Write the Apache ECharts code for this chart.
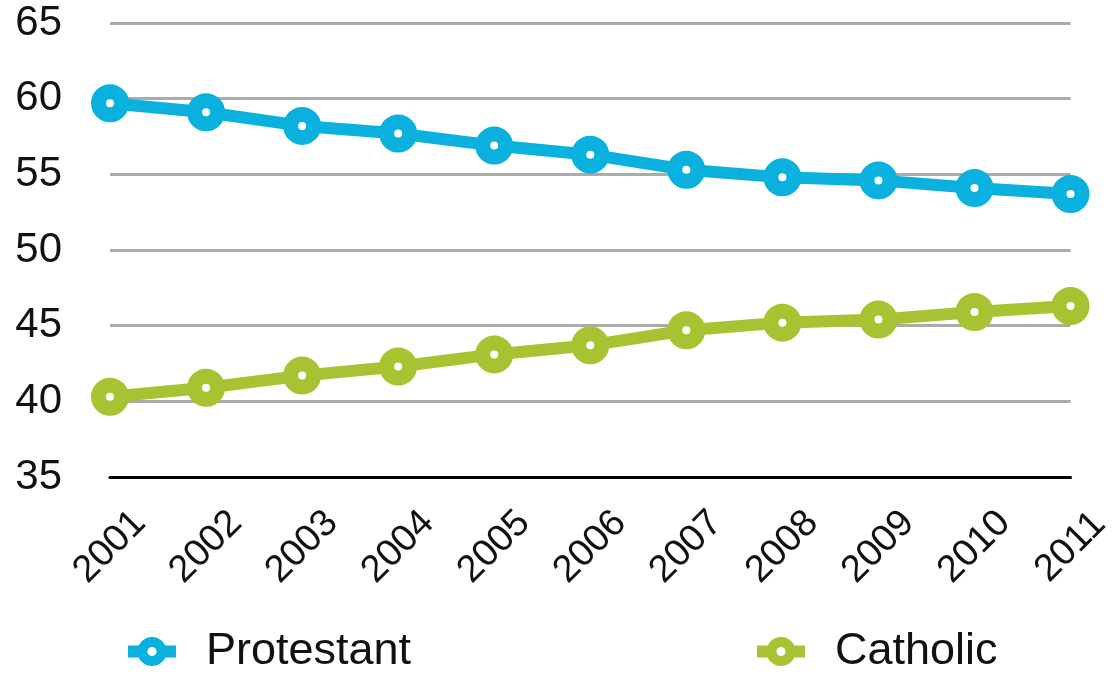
<!DOCTYPE html>
<html>
<head>
<meta charset="utf-8">
<script src="https://cdn.jsdelivr.net/npm/echarts@6/dist/echarts.min.js"></script>
<style>
html,body{margin:0;padding:0;background:#fff;}
#chart{width:1115px;height:674px;}
</style>
</head>
<body>
<div id="chart"></div>
<script>
const years = ['2001','2002','2003','2004','2005','2006','2007','2008','2009','2010','2011'];
const protestant = [59.7, 59.1, 58.2, 57.7, 56.9, 56.3, 55.3, 54.8, 54.6, 54.1, 53.7];
const catholic = [40.3, 40.9, 41.7, 42.3, 43.1, 43.7, 44.7, 45.2, 45.4, 45.9, 46.3];
const yTicks = [35, 40, 45, 50, 55, 60, 65];

const BLUE = '#0AB1DE';
const GREEN = '#A8C331';
const FONT = 'Liberation Sans, Arial, Helvetica, sans-serif';

const chart = echarts.init(document.getElementById('chart'), null, {renderer: 'canvas'});

function makeSeries(name, data, color) {
  return {
    name: name,
    type: 'line',
    data: data,
    symbol: 'circle',
    symbolSize: 23,
    lineStyle: {color: color, width: 12},
    itemStyle: {color: '#ffffff', borderColor: color, borderWidth: 15},
    emphasis: {disabled: true},
    animation: false,
    z: 3
  };
}

function makeLegend(name, left) {
  return {
    data: [name],
    left: left,
    top: 624,
    itemWidth: 48,
    itemHeight: 24,
    itemGap: 0,
    textStyle: {fontFamily: FONT, fontSize: 45, color: '#111', padding: [0, 0, 0, 25]},
    lineStyle: {width: 12},
    itemStyle: {borderWidth: 10},
    selectedMode: false
  };
}

chart.setOption({
  backgroundColor: '#ffffff',
  animation: false,
  grid: {left: 110, right: 40, top: 23, bottom: 197, containLabel: false},
  legend: [makeLegend('Protestant', 117), makeLegend('Catholic', 746)],
  xAxis: {
    type: 'category',
    data: years,
    boundaryGap: false,
    axisLine: {show: true, lineStyle: {color: '#000', width: 3}},
    axisTick: {show: false},
    splitLine: {show: false},
    axisLabel: {
      rotate: 45,
      align: 'center',
      verticalAlign: 'middle',
      margin: 70,
      fontFamily: FONT,
      fontSize: 38,
      color: '#111',
      interval: 0
    }
  },
  yAxis: {
    type: 'value',
    min: yTicks[0],
    max: yTicks[yTicks.length - 1],
    interval: 5,
    axisLine: {show: false},
    axisTick: {show: false},
    splitLine: {show: true, lineStyle: {color: '#ababab', width: 3}},
    axisLabel: {
      margin: 48,
      fontFamily: FONT,
      fontSize: 42,
      color: '#111',
      formatter: function (v) { return yTicks.indexOf(v) >= 0 ? String(v) : ''; }
    }
  },
  series: [makeSeries('Protestant', protestant, BLUE), makeSeries('Catholic', catholic, GREEN)]
});
</script>
</body>
</html>
